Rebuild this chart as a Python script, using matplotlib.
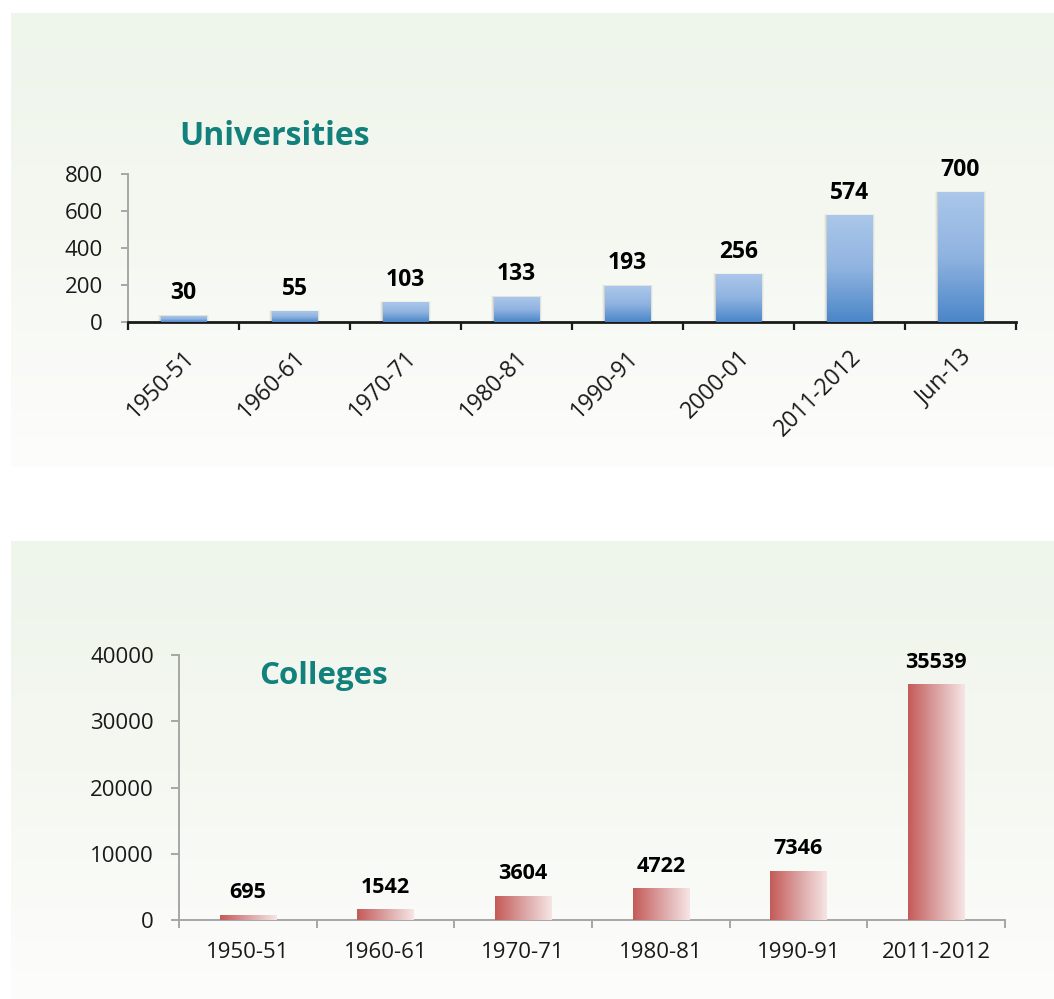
import numpy as np
import matplotlib
matplotlib.use("Agg")
import matplotlib.pyplot as plt
from matplotlib.patches import Rectangle
from matplotlib.colors import LinearSegmentedColormap
from matplotlib.transforms import ScaledTranslation

# Number of universities by period
uni_periods = ["1950-51", "1960-61", "1970-71", "1980-81", "1990-91",
               "2000-01", "2011-2012", "Jun-13"]
uni_counts = [30, 55, 103, 133, 193, 256, 574, 700]
uni_ticks = [0, 200, 400, 600, 800]

# Number of colleges by period
col_periods = ["1950-51", "1960-61", "1970-71", "1980-81", "1990-91", "2011-2012"]
col_counts = [695, 1542, 3604, 4722, 7346, 35539]
col_ticks = [0, 10000, 20000, 30000, 40000]

W, H = 1054, 999
PT = 72 / 100  # points per pixel at dpi 100

plt.rcParams['font.family'] = ['Open Sans', 'DejaVu Sans']
TEXT = '#1a1a1a'
TITLE = '#12807b'

fig = plt.figure(figsize=(W / 100, H / 100), dpi=100)
fig.patch.set_facecolor('white')


def px_axes(x0, y0, x1, y1, **kw):
    return fig.add_axes([x0 / W, 1 - y1 / H, (x1 - x0) / W, (y1 - y0) / H], **kw)


# Panel backgrounds with soft green-to-white gradient
bg = fig.add_axes([0, 0, 1, 1], zorder=-10)
panel_cmap = LinearSegmentedColormap.from_list(
    'panel', ['#eef5eb', '#f5f8f1', '#fdfdfc'])
vgrad = np.linspace(0, 1, 256).reshape(-1, 1)
for (x0, y0, x1, y1) in [(11, 13, 1054, 467), (11, 541, 1054, 999)]:
    bg.imshow(vgrad, cmap=panel_cmap, extent=[x0, x1, y1, y0],
              aspect='auto', interpolation='bicubic')
bg.set_xlim(0, W)
bg.set_ylim(H, 0)
bg.axis('off')

bg.text(179, 145, "Universities", fontsize=23, fontweight='bold',
        color=TITLE, ha='left', va='baseline')
bg.text(259, 684, "Colleges", fontsize=22.5, fontweight='bold',
        color=TITLE, ha='left', va='baseline')


def fill_gradient(ax, bars, img, cmap):
    for b in bars:
        x, y = b.get_x(), b.get_y()
        w, h = b.get_width(), b.get_height()
        ax.imshow(img, cmap=cmap, extent=[x, x + w, y, y + h],
                  aspect='auto', zorder=3, interpolation='bicubic')
        b.set_facecolor('none')
        b.set_edgecolor('none')


# ---- Universities ----
ax1 = px_axes(128, 174, 1016, 322)
ax1.set_facecolor('none')
x1 = np.arange(len(uni_periods))
bars1 = ax1.bar(x1, uni_counts, width=0.41, zorder=3)

# soft drop shadow around the blue bars (mostly on the sides)
dx = 1 / 111.0
dy = 800 / 148.0
for b in bars1:
    for k, a in [(3, 0.05), (2, 0.09), (1, 0.15)]:
        ax1.add_patch(Rectangle((b.get_x() - k * dx, 0),
                                b.get_width() + 2 * k * dx,
                                b.get_height() + 0.5 * k * dy,
                                facecolor='#606060', alpha=a,
                                edgecolor='none', zorder=2))

blue = LinearSegmentedColormap.from_list('blue', ['#abc7ea', '#8fb3e0', '#4a86c8'])
fill_gradient(ax1, bars1, vgrad, blue)

for xi, v in zip(x1, uni_counts):
    ax1.annotate(str(v), (xi, v), xytext=(0, 17 * PT), textcoords='offset points',
                 ha='center', va='baseline', fontsize=16.5, fontweight='bold',
                 color='black', annotation_clip=False)

ax1.set_xlim(-0.5, len(x1) - 0.5)
ax1.set_ylim(0, 800)
ax1.set_yticks(uni_ticks)
ax1.set_yticklabels([str(t) for t in uni_ticks])
ax1.set_xticks(np.arange(len(x1) + 1) - 0.5)
ax1.set_xticklabels([])
ax1.tick_params(axis='x', which='major', length=8 * PT, width=1.6,
                color='#1a1a1a', direction='out')
ax1.tick_params(axis='y', length=7 * PT, width=1.4, color='#a6a6a6',
                labelsize=16, labelcolor=TEXT, pad=18 * PT)

# rotated category labels hanging below each bar
label_shift = ScaledTranslation(8 / 100, -32 / 100, fig.dpi_scale_trans)
for xi, lab in zip(x1, uni_periods):
    ax1.text(xi, 0, lab, transform=ax1.get_xaxis_transform() + label_shift,
             rotation=45, ha='right', va='center', rotation_mode='anchor',
             fontsize=16.5, color=TEXT)

for s in ('top', 'right'):
    ax1.spines[s].set_visible(False)
ax1.spines['bottom'].set_color('#1a1a1a')
ax1.spines['bottom'].set_linewidth(2)
ax1.spines['left'].set_color('#a6a6a6')
ax1.spines['left'].set_linewidth(1.4)

# ---- Colleges ----
ax2 = px_axes(179, 655, 1005, 920)
ax2.set_facecolor('none')
x2 = np.arange(len(col_periods))
bars2 = ax2.bar(x2, col_counts, width=0.41, zorder=3)
red = LinearSegmentedColormap.from_list('red', ['#c45a57', '#dba2a2', '#f7e5e5'])
fill_gradient(ax2, bars2, np.linspace(0, 1, 256).reshape(1, -1), red)

for xi, v in zip(x2, col_counts):
    ax2.annotate(str(v), (xi, v), xytext=(0, 17 * PT), textcoords='offset points',
                 ha='center', va='baseline', fontsize=15.5, fontweight='bold',
                 color='black', annotation_clip=False)

ax2.set_xlim(-0.5, len(x2) - 0.5)
ax2.set_ylim(0, 40000)
ax2.set_yticks(col_ticks)
ax2.set_yticklabels([str(t) for t in col_ticks])
ax2.set_xticks(np.arange(len(x2) + 1) - 0.5)
ax2.set_xticklabels([])
ax2.set_xticks(x2, minor=True)
ax2.set_xticklabels(col_periods, minor=True)
ax2.tick_params(axis='x', which='minor', length=0, pad=22 * PT, labelsize=16,
                labelcolor=TEXT)
ax2.tick_params(axis='x', which='major', length=8 * PT, width=1.4,
                color='#a6a6a6', direction='out')
ax2.tick_params(axis='y', length=8 * PT, width=1.4, color='#a6a6a6',
                labelsize=16, labelcolor=TEXT, pad=17 * PT)
for s in ('top', 'right'):
    ax2.spines[s].set_visible(False)
for s in ('bottom', 'left'):
    ax2.spines[s].set_color('#a6a6a6')
    ax2.spines[s].set_linewidth(1.4)

fig.savefig('out.png', dpi=100, facecolor='white')
